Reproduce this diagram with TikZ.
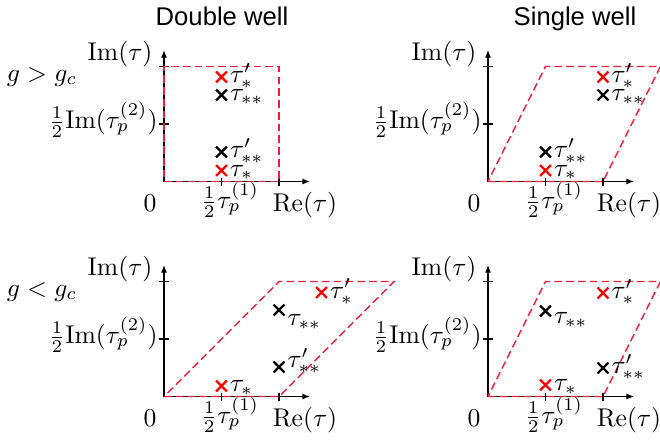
\documentclass[tikz,border=0pt]{standalone}
\usepackage{fontspec}
\newfontfamily\headfont{Liberation Sans}
\usetikzlibrary{arrows.meta,positioning,shapes.misc}
\definecolor{cellred}{RGB}{236,32,60}

\begin{document}
\begin{tikzpicture}[
  x=0.39pt, y=-0.39pt,
  axis/.style={-{Latex[length=3pt,width=2.4pt]}, line width=0.5pt},
  tick/.style={line width=0.5pt},
  cell/.style={draw=cellred, dash pattern=on 3pt off 1.6pt, line width=0.55pt},
  redx/.style={cross out, draw=red, line width=0.85pt, minimum size=3.4pt, inner sep=0pt},
  blackx/.style={redx, draw=black},
  lbl/.style={inner sep=0pt, anchor=base west, yshift=-2.2pt},
  txt/.style={inner sep=0pt, anchor=base},
  head/.style={txt, font=\headfont}
]
\useasboundingbox (0,0) rectangle (660,440);

% titles and the two regimes
\node[head] (dw) at (222,25) {Double well};
\node[head] (sw) at (575,25) {Single well};
\node[txt] (gup) at (42,81) {$g>g_c$};
\node[txt] (gdn) at (42,296) {$g<g_c$};

% axes, ticks and their labels
\foreach \ox/\oy/\k in {164/181.5/a, 488/181.5/b, 164/396.5/c, 488/396.5/d} {
  \coordinate (o\k) at (\ox,\oy);
  \draw[axis] (o\k) -- ++(146,0);
  \draw[axis] (o\k) -- ++(0,-131.5);
  \foreach \t in {57.5,115} {
    \draw[tick] (\ox+\t,\oy-4) -- ++(0,8);
    \draw[tick] (\ox-5,\oy-\t) -- ++(10,0);
  }
  \node[txt] (zero\k) at (\ox-14,\oy+30) {$0$};
  \node[txt] (hre\k) at (\ox+66,\oy+27) {$\frac{1}{2}\tau_p^{(1)}$};
  \node[txt] (re\k) at (\ox+141,\oy+30) {$\mathrm{Re}(\tau)$};
  \node[txt] (im\k) at (\ox-44,\oy-121.5) {$\mathrm{Im}(\tau)$};
  \node[txt, anchor=base east] (him\k) at (\ox-6,\oy-53) {$\frac{1}{2}\mathrm{Im}(\tau_p^{(2)})$};
}

% unit cells
\draw[cell] (oa) -- ++(115,0) -- ++(0,-115) -- ++(-115,0) -- cycle;
\draw[cell] (ob) -- ++(115,0) -- ++(57.5,-115) -- ++(-115,0) -- cycle;
\draw[cell] (oc) -- ++(115,0) -- ++(115,-115) -- ++(-115,0) -- cycle;
\draw[cell] (od) -- ++(115,0) -- ++(57.5,-115) -- ++(-115,0) -- cycle;

% double well, g > g_c
\node[redx] (pa1) at (221.5,77) {};
\node[right=1pt of pa1, lbl] (la1) {$\tau'_*$};
\node[blackx] (pa2) at (221.5,95) {};
\node[right=1pt of pa2, lbl] (la2) {$\tau_{**}$};
\node[blackx] (pa3) at (221.5,152) {};
\node[right=1pt of pa3, lbl] (la3) {$\tau'_{**}$};
\node[redx] (pa4) at (221.5,170.5) {};
\node[right=1pt of pa4, lbl] (la4) {$\tau_*$};

% single well, g > g_c
\node[redx] (pb1) at (603,77) {};
\node[right=1pt of pb1, lbl] (lb1) {$\tau'_*$};
\node[blackx] (pb2) at (603,95) {};
\node[right=1pt of pb2, lbl] (lb2) {$\tau_{**}$};
\node[blackx] (pb3) at (545.5,152) {};
\node[right=1pt of pb3, lbl] (lb3) {$\tau'_{**}$};
\node[redx] (pb4) at (545.5,170.5) {};
\node[right=1pt of pb4, lbl] (lb4) {$\tau_*$};

% double well, g < g_c
\node[redx] (pc1) at (321.5,292.5) {};
\node[right=1pt of pc1, lbl] (lc1) {$\tau'_*$};
\node[blackx] (pc2) at (279,310) {};
\node[right=1pt of pc2, lbl, yshift=-3.9pt] (lc2) {$\tau_{**}$};
\node[blackx] (pc3) at (279,367) {};
\node[right=1pt of pc3, lbl, yshift=2pt] (lc3) {$\tau'_{**}$};
\node[redx] (pc4) at (221.5,386) {};
\node[right=1pt of pc4, lbl] (lc4) {$\tau_*$};

% single well, g < g_c
\node[redx] (pd1) at (603,293) {};
\node[right=1pt of pd1, lbl] (ld1) {$\tau'_*$};
\node[blackx] (pd2) at (545.5,311) {};
\node[right=1pt of pd2, lbl, yshift=-2.7pt] (ld2) {$\tau_{**}$};
\node[blackx] (pd3) at (603,368) {};
\node[right=1pt of pd3, lbl] (ld3) {$\tau'_{**}$};
\node[redx] (pd4) at (545.5,385) {};
\node[right=1pt of pd4, lbl] (ld4) {$\tau_*$};
\end{tikzpicture}
\end{document}
